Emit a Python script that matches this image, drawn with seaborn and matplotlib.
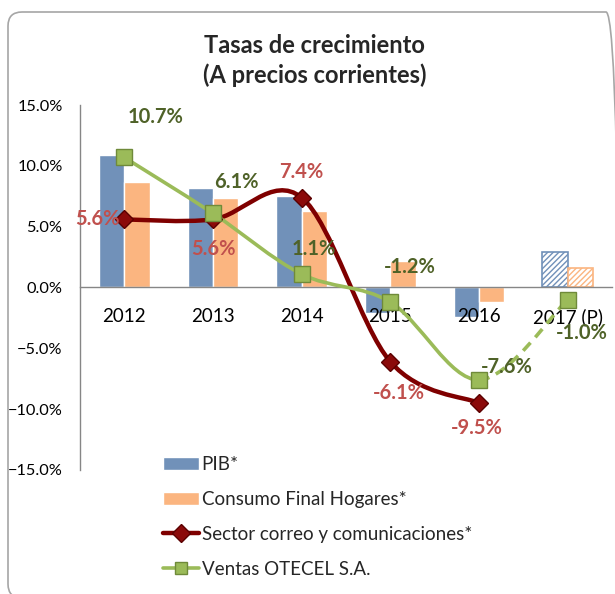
import numpy as np
import pandas as pd
import matplotlib
matplotlib.use('Agg')
import matplotlib.pyplot as plt
import seaborn as sns
from matplotlib.path import Path
from matplotlib.patches import PathPatch, FancyBboxPatch, Patch
from matplotlib.lines import Line2D
from matplotlib.ticker import PercentFormatter

years = ['2012', '2013', '2014', '2015', '2016', '2017 (P)']
pib = [10.9, 8.2, 7.5, -2.1, -2.4, 2.9]
consumo = [8.7, 7.4, 6.3, 2.2, -1.2, 1.6]
sector = [5.6, 5.6, 7.4, -6.1, -9.5]
ventas = [10.7, 6.1, 1.1, -1.2, -7.6, -1.0]

# label offsets (pixels) for the data labels
sector_off = [(-27, 0), (0, -30), (0, 26), (9, -31), (-2, -25)]
ventas_off = [(31, 40), (23, 31), (12, 25), (20, 35), (28, 13), (14, -33)]

blue = '#7191b9'
orange = '#fbb580'
red_line = '#7f0000'
green_line = '#9bbb59'
red_txt = '#c0504d'
green_txt = '#4f6228'

sns.set_theme(style='white')
plt.rcParams['font.family'] = ['Lato', 'DejaVu Sans']

fig = plt.figure(figsize=(6.15, 5.94), dpi=100)
ax = fig.add_axes([0.130, 0.209, 0.865, 0.614])

df = pd.DataFrame({'year': years * 2,
                   'serie': ['PIB*'] * 6 + ['Consumo Final Hogares*'] * 6,
                   'valor': pib + consumo})
sns.barplot(data=df, x='year', y='valor', hue='serie', palette=[blue, orange],
            width=0.57, gap=0, saturation=1, legend=False, ax=ax, zorder=2)

# projected year: hatched bars
plt.rcParams['hatch.linewidth'] = 1.0
for cont, col in zip(ax.containers, [blue, orange]):
    bar = cont.patches[-1]
    bar.set_facecolor('white')
    bar.set_edgecolor(col)
    bar.set_hatch('//////')
    bar.set_linewidth(1.2)


def smooth_segments(xs, ys):
    pts = np.column_stack([xs, ys]).astype(float)
    n = len(pts)
    segs = []
    for i in range(n - 1):
        p0 = pts[max(i - 1, 0)]
        p1 = pts[i]
        p2 = pts[i + 1]
        p3 = pts[min(i + 2, n - 1)]
        c1 = p1 + (p2 - p0) / 6
        c2 = p2 - (p3 - p1) / 6
        segs.append([p1, c1, c2, p2])
    return segs


def draw_curve(segs, **kw):
    verts = [segs[0][0]]
    codes = [Path.MOVETO]
    for s in segs:
        verts += [s[1], s[2], s[3]]
        codes += [Path.CURVE4] * 3
    ax.add_patch(PathPatch(Path(verts, codes), fill=False, **kw))


xs_s = np.arange(len(sector))
xs_v = np.arange(len(ventas))

seg_s = smooth_segments(xs_s, sector)
draw_curve(seg_s, edgecolor=red_line, lw=3.2, zorder=4, capstyle='round')
seg_v = smooth_segments(xs_v, ventas)
draw_curve(seg_v[:-1], edgecolor=green_line, lw=2.6, zorder=5, capstyle='round')
draw_curve(seg_v[-1:], edgecolor=green_line, lw=2.6, zorder=5, linestyle=(0, (3, 2)))

ax.plot(xs_s, sector, linestyle='none', marker='D', markersize=9,
        markerfacecolor='#8b0a0a', markeredgecolor='#5a0000', zorder=6)
ax.plot(xs_v, ventas, linestyle='none', marker='s', markersize=11,
        markerfacecolor='#9bbb59', markeredgecolor='#6f8a3a', zorder=7)

for x, v, (dx, dy) in zip(xs_s, sector, sector_off):
    ax.annotate(f'{v:.1f}%', (x, v), xytext=(dx * 0.72, dy * 0.72),
                textcoords='offset points', ha='center', va='center',
                color=red_txt, fontsize=14.5, fontweight='bold', zorder=8)
for x, v, (dx, dy) in zip(xs_v, ventas, ventas_off):
    ax.annotate(f'{v:.1f}%', (x, v), xytext=(dx * 0.72, dy * 0.72),
                textcoords='offset points', ha='center', va='center',
                color=green_txt, fontsize=14.5, fontweight='bold', zorder=8)

ax.set_xlim(-0.5, 5.5)
ax.set_ylim(-15, 15)
ax.set_yticks([-15, -10, -5, 0, 5, 10, 15])
ax.yaxis.set_major_formatter(PercentFormatter(decimals=1))
ax.set_xlabel('')
ax.set_ylabel('')
ax.spines['top'].set_visible(False)
ax.spines['right'].set_visible(False)
ax.spines['bottom'].set_position(('data', 0))
for sp in ['left', 'bottom']:
    ax.spines[sp].set_color('#868686')
    ax.spines[sp].set_linewidth(1.0)
ax.tick_params(axis='x', length=0, labelsize=13.5, pad=15, colors='black')
ax.tick_params(axis='y', length=0, labelsize=11.8, pad=12.5, colors='black')
ax.xaxis.set_zorder(3)
ax.patch.set_alpha(0)

fig.text(0.512, 0.924, 'Tasas de crecimiento', ha='center', va='center',
         fontsize=17, fontweight='bold')
fig.text(0.512, 0.874, '(A precios corrientes)', ha='center', va='center',
         fontsize=17, fontweight='bold')

handles = [Patch(facecolor=blue, label='PIB*'),
           Patch(facecolor=orange, label='Consumo Final Hogares*'),
           Line2D([], [], color=red_line, lw=3.2, marker='D', markersize=9,
                  markerfacecolor='#8b0a0a', markeredgecolor='#5a0000',
                  label='Sector correo y comunicaciones*'),
           Line2D([], [], color=green_line, lw=2.6, marker='s', markersize=9,
                  markerfacecolor='#9bbb59', markeredgecolor='#6f8a3a',
                  label='Ventas OTECEL S.A.')]
fig.legend(handles=handles, loc='upper left', bbox_to_anchor=(0.25, 0.248),
           frameon=False, fontsize=13.5, handlelength=1.9, labelspacing=0.95,
           handletextpad=0.15, borderpad=0)

# chart frame (cropped at right and bottom, as in the source image)
fig.add_artist(FancyBboxPatch((0.08, -0.04), 6.12, 5.86,
                              boxstyle='round,pad=0,rounding_size=0.14',
                              transform=fig.dpi_scale_trans, fill=False,
                              edgecolor='#a6a6a6', lw=1.2))

fig.savefig('out.png', dpi=100)
